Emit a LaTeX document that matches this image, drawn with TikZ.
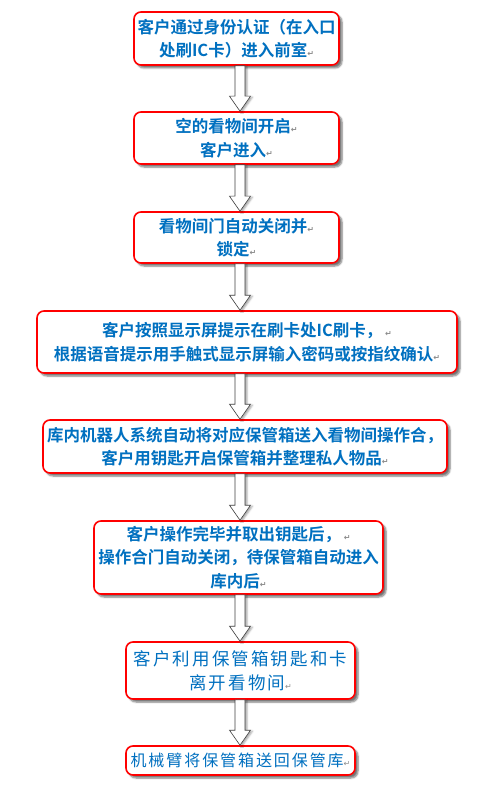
\documentclass[tikz,border=0pt]{standalone}
\usepackage{fontspec}
\usetikzlibrary{calc,shadows.blur}
\newfontfamily\cjk[BoldFont={Noto Sans CJK SC Bold}]{Noto Sans CJK SC}
\newfontfamily\cjkl[LetterSpace=12]{Noto Sans CJK SC}
\newfontfamily\symf{DejaVu Sans}
\definecolor{cText}{HTML}{0070C0}
\definecolor{cEdge}{HTML}{FF0000}
\definecolor{cArrow}{HTML}{404040}
\definecolor{cShade}{HTML}{8C8C8C}
\definecolor{cMark}{HTML}{8C8C8C}
% paragraph mark left in the source text
\newcommand{\pmark}{{\symf\fontsize{8}{8}\selectfont\textcolor{cMark}{↵}}}
% hollow block arrow between two boxes, shaft on x = 240
\newcommand{\flowarrow}[2]{%
  \path[blk] let \p1=(#1.south), \p2=(#2.north) in
    ({235pt},\y1) -- ({235pt},{\y2+15pt}) -- ({229.5pt},{\y2+15pt}) -- ({240pt},\y2)
    -- ({250.5pt},{\y2+15pt}) -- ({245pt},{\y2+15pt}) -- ({245pt},\y1) -- cycle;}

\begin{document}
\begin{tikzpicture}[
  x=1pt,y=-1pt,
  card/.style={draw=cEdge,line width=1.6pt,rounded corners=7pt,fill=white,
    blur shadow={shadow xshift=3pt,shadow yshift=-3pt,shadow blur steps=6,shadow opacity=55},
    align=center,inner sep=0pt,text=cText,
    font=\cjk\bfseries\fontsize{16.5}{23.5}\selectfont},
  light/.style={font=\cjkl\fontsize{17.5}{24}\selectfont},
  blk/.style={draw=cArrow,line width=0.6pt,fill=white,
    blur shadow={shadow xshift=2pt,shadow yshift=-1pt,shadow blur steps=3,shadow opacity=35}},
]
\useasboundingbox (0,0) rectangle (494,802);

% ============================================================ boxes
\node[card,minimum width=205,minimum height=53] (enter) at (236.5,38.5)
  {客户通过身份认证（在入口\\处刷IC卡）进入前室\pmark};
\node[card,minimum width=205,minimum height=52] (open) at (236.5,138)
  {空的看物间开启\pmark\\客户进入\pmark};
\node[card,minimum width=205,minimum height=51] (lock) at (236.5,237.5)
  {看物间门自动关闭并\pmark\\锁定\pmark};
\node[card,minimum width=420,minimum height=62] (verify) at (247,342)
  {客户按照显示屏提示在刷卡处IC刷卡，\,\pmark\\根据语音提示用手触式显示屏输入密码或按指纹确认\pmark};
\node[card,minimum width=404,minimum height=53] (deliver) at (245,446.5)
  {库内机器人系统自动将对应保管箱送入看物间操作合，\\客户用钥匙开启保管箱并整理私人物品\pmark};
\node[card,minimum width=289,minimum height=73] (finish) at (238.5,557.5)
  {客户操作完毕并取出钥匙后，\,\pmark\\操作合门自动关闭，待保管箱自动进入\\库内后\pmark};
\node[card,light,minimum width=229,minimum height=57] (leave) at (240.5,670.5)
  {客户利用保管箱钥匙和卡\\离开看物间\pmark};
\node[card,minimum width=229,minimum height=29,
  font=\cjkl\fontsize{16}{20}\selectfont] (back) at (240.5,760.5)
  {机械臂将保管箱送回保管库\pmark};

% ============================================================ arrows
\flowarrow{enter}{open}
\flowarrow{open}{lock}
\flowarrow{lock}{verify}
\flowarrow{verify}{deliver}
\flowarrow{deliver}{finish}
\flowarrow{finish}{leave}
\flowarrow{leave}{back}

\end{tikzpicture}
\end{document}
